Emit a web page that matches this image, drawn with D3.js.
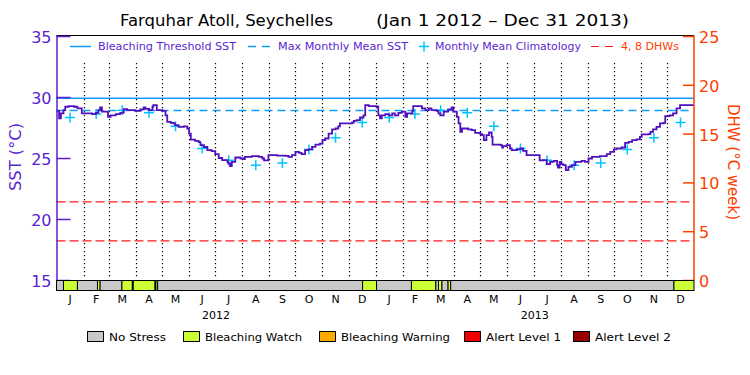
<!DOCTYPE html>
<html lang="en">
<head>
<meta charset="UTF-8">
<title>Farquhar Atoll, Seychelles</title>
<script src="https://d3js.org/d3.v7.min.js"></script>
<style>
  body { margin: 0; background: #fff; }
  text { font-family: "DejaVu Sans", sans-serif; }
</style>
</head>
<body>
<svg width="750" height="375"></svg>
<script>
// --- data ---
const months = ["J", "F", "M", "A", "M", "J", "J", "A", "S", "O", "N", "D"];
const years = [2012, 2013];
// monthly mean climatology (deg C), Jan..Dec
const climatology = [28.32, 28.6, 28.92, 28.7, 27.6, 25.78, 24.82, 24.4, 24.6, 25.7, 26.65, 27.91];
const mmm = 28.9;          // max monthly mean
const threshold = 29.9;    // bleaching threshold
const dhwLevels = [4, 8];

// SST: days since 2012-01-01 and value
const sstDay = [0, 3, 5, 8, 10, 14, 20, 24, 29, 41, 45, 48, 50, 52, 59, 62, 68, 73, 77, 81,
  90, 96, 100, 102, 106, 110, 111, 115, 121, 125, 127, 131, 134, 136, 140, 146, 150, 152, 154, 159,
  163, 165, 169, 173, 178, 182, 186, 190, 196, 197, 199, 201, 205, 211, 215, 216, 224, 232, 236, 238,
  243, 253, 262, 266, 270, 274, 278, 281, 285, 289, 293, 297, 302, 305, 308, 312, 316, 320, 323, 325,
  339, 341, 344, 348, 352, 354, 358, 367, 369, 371, 373, 377, 381, 385, 388, 392, 396, 400, 402, 408,
  409, 415, 419, 423, 427, 430, 436, 438, 440, 444, 449, 453, 455, 459, 461, 463, 465, 472, 476, 480,
  486, 488, 490, 493, 496, 499, 500, 509, 511, 512, 516, 520, 522, 528, 532, 535, 539, 554, 558, 562,
  566, 570, 574, 575, 577, 579, 581, 584, 587, 591, 595, 602, 606, 610, 614, 623, 631, 635, 639, 642,
  648, 652, 656, 660, 665, 669, 671, 679, 681, 684, 688, 692, 696, 698, 703, 707, 711, 715, 731];
const sstVal = [28.87, 28.24, 28.65, 28.93, 29.2, 29.25, 29.2, 29.06, 28.65, 28.6, 28.7, 28.93, 29.14, 28.8, 28.37, 28.5, 28.6, 28.7, 29.0, 28.92,
  28.87, 28.98, 29.14, 29.03, 28.92, 29.2, 29.33, 28.92, 28.87, 28.5, 27.96, 27.88, 27.83, 27.7, 27.55, 27.6, 27.42, 27.0, 26.5, 26.4,
  26.3, 26.05, 25.9, 25.64, 25.56, 25.31, 25.0, 24.82, 24.68, 24.55, 24.33, 24.68, 25.04, 24.96, 24.9, 25.09, 25.15, 25.09, 24.96, 24.8,
  25.23, 25.2, 25.17, 25.09, 25.23, 25.5, 25.42, 25.31, 25.64, 25.7, 25.91, 26.1, 26.18, 26.46, 26.6, 27.0, 27.34, 27.42, 27.6, 27.83,
  27.91, 28.05, 28.1, 28.32, 28.5, 29.33, 29.25, 29.2, 28.5, 28.24, 28.5, 28.6, 28.5, 28.65, 28.5, 28.7, 28.8, 28.37, 28.65, 28.87,
  29.25, 29.25, 29.06, 28.92, 29.06, 28.92, 28.87, 28.65, 28.5, 28.8, 28.98, 29.14, 28.8, 28.37, 27.83, 27.14, 27.42, 27.34, 27.28, 27.06,
  26.95, 26.87, 26.46, 26.87, 27.09, 26.73, 26.1, 26.05, 25.86, 25.97, 26.05, 25.78, 25.64, 25.7, 25.78, 25.58, 25.23, 24.8, 24.82, 24.5,
  24.68, 24.76, 24.41, 24.22, 24.68, 24.49, 24.41, 24.0, 24.27, 24.41, 24.68, 24.76, 24.68, 24.96, 25.09, 25.15, 25.31, 25.5, 25.7, 25.78,
  25.86, 26.24, 26.32, 26.46, 26.52, 26.73, 26.93, 26.95, 27.14, 27.34, 27.55, 27.83, 27.88, 28.43, 28.5, 28.65, 29.06, 29.33, 29.33];

// stress level periods (start date, level); each runs to the next start
const stressStart = ["2012-01-01", "2012-01-09", "2012-01-25", "2012-02-17", "2012-02-20", "2012-03-16",
  "2012-03-28", "2012-03-29", "2012-04-23", "2012-04-24", "2012-04-26", "2012-12-17", "2013-01-02",
  "2013-02-11", "2013-03-11", "2013-03-14", "2013-03-18", "2013-03-25", "2013-03-28", "2013-12-09"];
const stressLevel = [0, 1, 0, 1, 0, 1, 0, 1, 0, 1, 0, 1, 0, 1, 0, 1, 0, 1, 0, 1];
const stressNames = ["No Stress", "Bleaching Watch", "Bleaching Warning", "Alert Level 1", "Alert Level 2"];
const stressColors = ["#c8c8c8", "#ccff33", "#ffaa00", "#ee0000", "#990000"];

// --- layout ---
const pL = 56.5, pR = 694, pT = 35.5, pB = 280;
const purple = "#5b1fd0", lineCol = "#5010c0", orange = "#ff4000";
const svg = d3.select("svg");
const parse = d3.utcParse("%Y-%m-%d");
const t0 = parse("2012-01-01"), t1 = parse("2014-01-01");

const x = d3.scaleUtc().domain([t0, t1]).range([pL, pR]);
const ySST = d3.scaleLinear().domain([15, 35]).range([pB, pT + 0.5]);
const yDHW = d3.scaleLinear().domain([0, 25]).range([pB, pT + 0.5]);

// title
svg.append("text").attr("x", 120).attr("y", 26).attr("font-size", 16)
  .attr("textLength", 213).attr("lengthAdjust", "spacingAndGlyphs")
  .text("Farquhar Atoll, Seychelles");
svg.append("text").attr("x", 376).attr("y", 26).attr("font-size", 16)
  .attr("textLength", 253).attr("lengthAdjust", "spacingAndGlyphs")
  .text("(Jan 1 2012 \u2013 Dec 31 2013)");

// month dotted separators
const monthStarts = d3.utcMonth.range(t0, t1);
svg.append("g").selectAll("line")
  .data(monthStarts.slice(1))
  .join("line")
  .attr("x1", d => Math.round(x(d)) + 0.5).attr("x2", d => Math.round(x(d)) + 0.5)
  .attr("y1", 63).attr("y2", pB - 2)
  .attr("stroke", "#000").attr("stroke-width", 1.2)
  .attr("stroke-dasharray", "1.2,2.8");

// DHW reference lines
svg.append("g").selectAll("line")
  .data(dhwLevels)
  .join("line")
  .attr("x1", pL).attr("x2", pR)
  .attr("y1", d => yDHW(d)).attr("y2", d => yDHW(d))
  .attr("stroke", "#ff1a1a").attr("stroke-width", 1.2)
  .attr("stroke-dasharray", "9,4");

// threshold & MMM
svg.append("line").attr("x1", pL).attr("x2", pR)
  .attr("y1", ySST(threshold)).attr("y2", ySST(threshold))
  .attr("stroke", "#109cff").attr("stroke-width", 1.5);
svg.append("line").attr("x1", pL).attr("x2", pR)
  .attr("y1", ySST(mmm)).attr("y2", ySST(mmm))
  .attr("stroke", "#109cff").attr("stroke-width", 1.5)
  .attr("stroke-dasharray", "8,5");

// climatology crosses, mid-month
const climPts = [];
years.forEach(yr => {
  climatology.forEach((v, i) => {
    const a = Date.UTC(yr, i, 1), b = Date.UTC(yr, i + 1, 1);
    climPts.push({ t: new Date((a + b) / 2), v: v });
  });
});
svg.append("g").selectAll("path")
  .data(climPts)
  .join("path")
  .attr("d", d => {
    const cx = x(d.t), cy = ySST(d.v);
    return `M${cx - 5},${cy}H${cx + 5}M${cx},${cy - 5}V${cy + 5}`;
  })
  .attr("stroke", "#00c4ff").attr("stroke-width", 1.5).attr("fill", "none");

// SST line
const sst = sstDay.map((d, i) => ({ t: d3.utcDay.offset(t0, d), v: sstVal[i] }));
svg.append("path")
  .datum(sst)
  .attr("fill", "none")
  .attr("stroke", lineCol)
  .attr("stroke-width", 1.8)
  .attr("d", d3.line().x(d => x(d.t)).y(d => ySST(d.v)).curve(d3.curveStepAfter));

// top border
svg.append("line").attr("x1", pL).attr("x2", pR).attr("y1", pT).attr("y2", pT)
  .attr("stroke", "#000").attr("stroke-width", 1.2);

// left axis (ticks inward)
const gl = svg.append("g").attr("transform", `translate(${pL},0)`).attr("color", purple);
gl.call(d3.axisRight(ySST).tickValues(d3.range(15, 36)).tickSize(7).tickFormat(""));
gl.call(d3.axisRight(ySST).tickValues([15, 20, 25, 30, 35]).tickSize(14).tickFormat(""));
gl.selectAll(".domain").attr("stroke-width", 1.5).attr("d", `M0.5,${pT}V${pB}`);
gl.selectAll("line").attr("stroke-width", 1.5);
const gll = svg.append("g").attr("transform", `translate(${pL - 5},0)`)
  .call(d3.axisLeft(ySST).tickValues([15, 20, 25, 30, 35]).tickSize(0).tickPadding(0));
gll.select(".domain").remove();
gll.selectAll("text").attr("font-size", 16).attr("fill", purple)
  .style("font-family", "DejaVu Sans").attr("dy", "0.4em");
svg.append("text")
  .attr("transform", "translate(21,157) rotate(-90)")
  .attr("text-anchor", "middle").attr("font-size", 16).attr("fill", purple)
  .attr("textLength", 68).attr("lengthAdjust", "spacingAndGlyphs")
  .text("SST (\u00b0C)");

// right axis (ticks inward)
const gr = svg.append("g").attr("transform", `translate(${pR},0)`).attr("color", orange);
gr.call(d3.axisLeft(yDHW).tickValues(d3.range(0, 26)).tickSize(6).tickFormat(""));
gr.call(d3.axisLeft(yDHW).tickValues([0, 5, 10, 15, 20, 25]).tickSize(11).tickFormat(""));
gr.selectAll(".domain").attr("stroke-width", 1.5).attr("d", `M0,${pT}V${pB}`);
gr.selectAll("line").attr("stroke-width", 1.5);
const grl = svg.append("g").attr("transform", `translate(${pR + 5},0)`)
  .call(d3.axisRight(yDHW).tickValues([0, 5, 10, 15, 20, 25]).tickSize(0).tickPadding(0));
grl.select(".domain").remove();
grl.selectAll("text").attr("font-size", 16).attr("fill", orange)
  .style("font-family", "DejaVu Sans").attr("dy", "0.4em");
svg.append("text")
  .attr("transform", "translate(728,162) rotate(90)")
  .attr("text-anchor", "middle").attr("font-size", 16).attr("fill", orange)
  .attr("textLength", 116).attr("lengthAdjust", "spacingAndGlyphs")
  .text("DHW (\u00b0C week)");

// stress bar
const stressEnd = stressStart.slice(1).concat(["2014-01-01"]);
svg.append("g").selectAll("rect")
  .data(stressStart.map((s, i) => ({ a: parse(s), b: parse(stressEnd[i]), lv: stressLevel[i] })))
  .join("rect")
  .attr("x", d => x(d.a)).attr("width", d => x(d.b) - x(d.a))
  .attr("y", pB + 0.5).attr("height", 10)
  .attr("fill", d => stressColors[d.lv])
  .attr("stroke", "#000").attr("stroke-width", 1);

// month & year labels
svg.append("g").selectAll("text")
  .data(monthStarts)
  .join("text")
  .attr("x", d => x(new Date((+d + +d3.utcMonth.offset(d, 1)) / 2)))
  .attr("y", 303).attr("text-anchor", "middle").attr("font-size", 11)
  .text(d => months[d.getUTCMonth()]);
svg.append("g").selectAll("text")
  .data(years)
  .join("text")
  .attr("x", d => x(new Date((Date.UTC(d, 0, 1) + Date.UTC(d + 1, 0, 1)) / 2)))
  .attr("y", 319).attr("text-anchor", "middle").attr("font-size", 11)
  .text(d => d);

// top legend
const lg = svg.append("g").attr("font-size", 11);
const ly = 50;
lg.append("line").attr("x1", 70).attr("x2", 91).attr("y1", ly - 3.5).attr("y2", ly - 3.5)
  .attr("stroke", "#109cff").attr("stroke-width", 1.5);
lg.append("text").attr("x", 98).attr("y", ly).attr("fill", purple)
  .attr("textLength", 138).attr("lengthAdjust", "spacingAndGlyphs").text("Bleaching Threshold SST");
lg.append("line").attr("x1", 248).attr("x2", 272).attr("y1", ly - 3.5).attr("y2", ly - 3.5)
  .attr("stroke", "#109cff").attr("stroke-width", 1.5).attr("stroke-dasharray", "8,6");
lg.append("text").attr("x", 278).attr("y", ly).attr("fill", purple)
  .attr("textLength", 130).attr("lengthAdjust", "spacingAndGlyphs").text("Max Monthly Mean SST");
lg.append("path").attr("d", `M419,${ly - 3.5}H429M424,${ly - 8.5}V${ly + 1.5}`)
  .attr("stroke", "#00c4ff").attr("stroke-width", 1.5);
lg.append("text").attr("x", 435).attr("y", ly).attr("fill", purple)
  .attr("textLength", 146).attr("lengthAdjust", "spacingAndGlyphs").text("Monthly Mean Climatology");
lg.append("line").attr("x1", 591).attr("x2", 615).attr("y1", ly - 3.5).attr("y2", ly - 3.5)
  .attr("stroke", "#ff1a1a").attr("stroke-width", 1.2).attr("stroke-dasharray", "8,6");
lg.append("text").attr("x", 621).attr("y", ly).attr("fill", orange)
  .attr("textLength", 58).attr("lengthAdjust", "spacingAndGlyphs").text("4, 8 DHWs");

// bottom stress legend
const boxX = [87, 183, 319, 464, 573];
const textW = [57, 97, 109, 75, 76];
const bl = svg.append("g").selectAll("g")
  .data(stressNames)
  .join("g")
  .attr("transform", (d, i) => `translate(${boxX[i]},331)`);
bl.append("rect").attr("x", 0.5).attr("y", 0.5).attr("width", 16).attr("height", 10)
  .attr("fill", (d, i) => stressColors[i]).attr("stroke", "#000").attr("stroke-width", 1);
bl.append("text").attr("x", 22).attr("y", 10).attr("font-size", 11)
  .attr("textLength", (d, i) => textW[i]).attr("lengthAdjust", "spacingAndGlyphs")
  .text(d => d);
</script>
</body>
</html>
